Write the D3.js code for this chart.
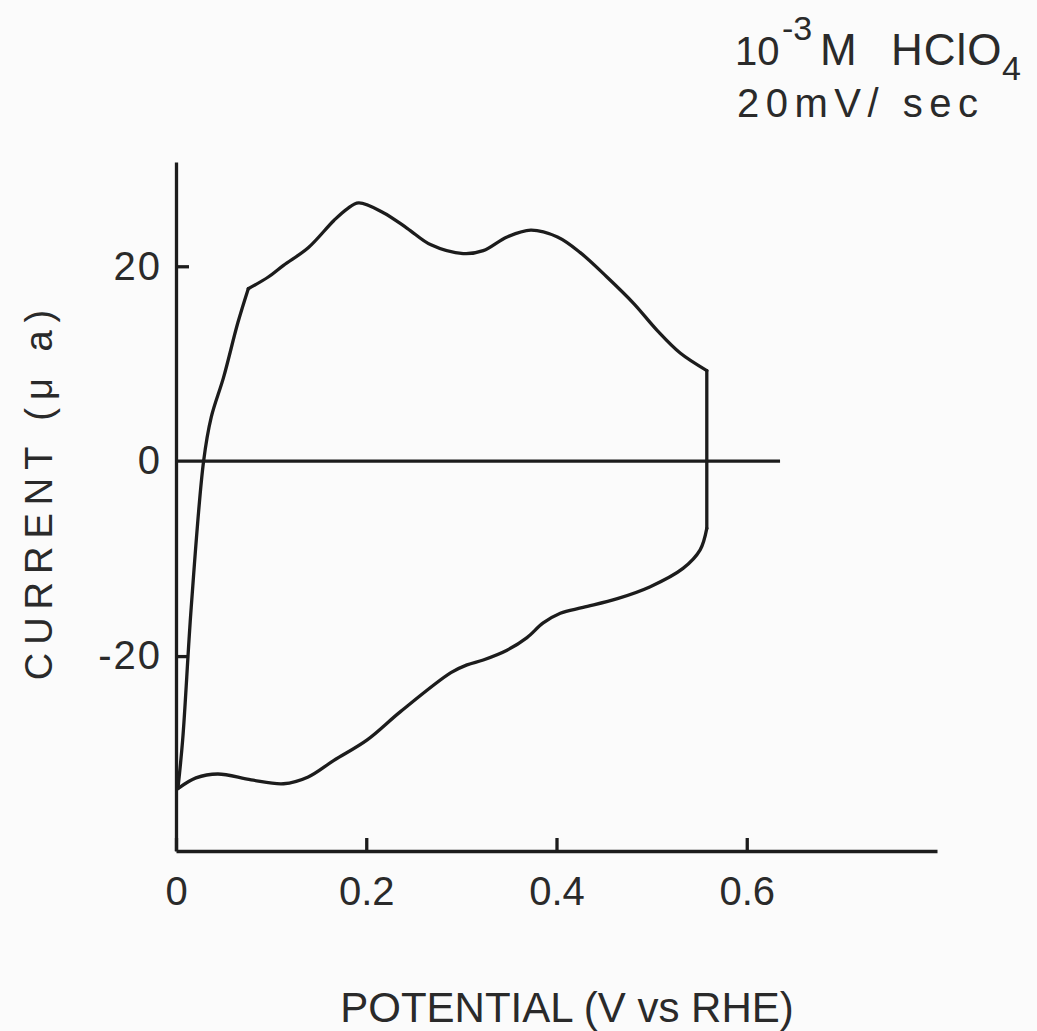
<!DOCTYPE html>
<html>
<head>
<meta charset="utf-8">
<script src="https://cdn.jsdelivr.net/npm/d3@7"></script>
<style>
  html, body { margin: 0; padding: 0; background: #fbfbfb; }
  svg { display: block; }
  text { font-family: "Liberation Sans", "DejaVu Sans", sans-serif; fill: #2a2a2a; }
</style>
</head>
<body>
<svg id="chart" width="1037" height="1031"></svg>
<script>
// ---- data ----
// Cyclic voltammogram loop: potential (V vs RHE) and current (µa), in sweep order
const potential = [
  0.002, 0.007, 0.016, 0.029, 0.037, 0.050, 0.065, 0.076,
  0.097, 0.113, 0.139, 0.166, 0.180, 0.192, 0.218, 0.243, 0.268, 0.302, 0.323,
  0.348, 0.373, 0.401, 0.425, 0.453, 0.481, 0.506, 0.530, 0.558,
  0.558, 0.551, 0.533, 0.498, 0.464, 0.428, 0.404, 0.386, 0.369, 0.348, 0.323,
  0.306, 0.289, 0.236, 0.201, 0.166, 0.139, 0.113, 0.079, 0.044, 0.021, 0.002
];
const current = [
  -33.6, -28.6, -15.0, 0.0, 4.5, 8.6, 14.2, 17.7,
  18.9, 20.1, 21.9, 24.7, 25.9, 26.5, 25.5, 23.9, 22.2, 21.3, 21.6,
  23.0, 23.7, 23.0, 21.4, 18.9, 16.2, 13.4, 11.1, 9.3,
  -6.9, -9.1, -11.0, -12.9, -14.1, -15.0, -15.6, -16.6, -18.1, -19.4, -20.4,
  -20.9, -21.7, -25.7, -28.6, -30.7, -32.4, -33.1, -32.7, -32.1, -32.5, -33.6
];
// indices where the trace has a sharp corner
const cornerIndex = [0, 7, 27, 28, 49];

const xTicks = [0, 0.2, 0.4, 0.6];
const xTickLabels = ["0", "0.2", "0.4", "0.6"];
const yTicks = [20, 0, -20];
const yTickLabels = ["20", "0", "-20"];
const zeroLine = [0, 0.635];   // potential range of the zero-current reference line

const xTitle = "POTENTIAL (V vs RHE)";
const yTitle = "CURRENT (\u03BC a)";
const annotationParts = ["10", "-3", "M", "HClO", "4"];
const sweepRate = "20mV/ sec";

// ---- layout ----
const svg = d3.select("#chart");
const x = d3.scaleLinear().domain([0, 0.8]).range([176, 937]);
const y = d3.scaleLinear().domain([-40, 30.7]).range([851, 162]);
const ink = "#1c1c1c";
const sw = 3.3;

// axes
const xAxis = d3.axisBottom(x)
  .tickValues(xTicks)
  .tickFormat((d, i) => xTickLabels[i])
  .tickSize(-13).tickSizeOuter(0).tickPadding(40);
const yAxis = d3.axisLeft(y)
  .tickValues(yTicks)
  .tickFormat((d, i) => yTickLabels[i])
  .tickSize(-13).tickSizeOuter(0).tickPadding(14);

const gx = svg.append("g").attr("transform", `translate(0,${y(-40)})`).call(xAxis);
const gy = svg.append("g").attr("transform", `translate(${x(0)},0)`).call(yAxis);

[gx, gy].forEach(g => {
  g.select(".domain").attr("stroke", ink).attr("stroke-width", sw);
  g.selectAll(".tick line").attr("stroke", ink).attr("stroke-width", sw);
  g.selectAll(".tick text")
    .style("font-family", '"Liberation Sans", sans-serif')
    .attr("fill", "#2a2a2a")
    .attr("font-size", 40);
});
gx.selectAll(".tick text").attr("dy", "0.35em");
gy.selectAll(".tick text").attr("letter-spacing", 2);
gy.selectAll(".tick").filter(d => d === 0).select("line").remove();

// zero-current reference line
svg.append("line")
  .attr("x1", x(zeroLine[0])).attr("x2", x(zeroLine[1]))
  .attr("y1", y(0)).attr("y2", y(0))
  .attr("stroke", ink).attr("stroke-width", sw);

// voltammogram trace, drawn segment by segment between corners
const pts = potential.map((p, i) => [p, current[i]]);
const line = d3.line()
  .x(d => x(d[0])).y(d => y(d[1]))
  .curve(d3.curveCatmullRom.alpha(0.5));
for (let s = 0; s < cornerIndex.length - 1; s++) {
  const seg = pts.slice(cornerIndex[s], cornerIndex[s + 1] + 1);
  svg.append("path")
    .attr("d", line(seg))
    .attr("fill", "none")
    .attr("stroke", ink)
    .attr("stroke-width", sw)
    .attr("stroke-linejoin", "round")
    .attr("stroke-linecap", "round");
}

// axis titles
svg.append("text")
  .attr("x", 567).attr("y", 1022)
  .attr("text-anchor", "middle")
  .attr("font-size", 42)
  .text(xTitle);

svg.append("text")
  .attr("transform", "translate(52,491) rotate(-90)")
  .attr("text-anchor", "middle")
  .attr("font-size", 38)
  .attr("letter-spacing", 8)
  .text(yTitle);

// annotation
const ann = svg.append("text").attr("y", 65).attr("font-size", 44);
ann.append("tspan").attr("x", 735).attr("font-size", 40).text(annotationParts[0]);
ann.append("tspan").attr("x", 782).attr("font-size", 34).attr("y", 40).text(annotationParts[1]);
ann.append("tspan").attr("x", 820).attr("y", 65).text(annotationParts[2]);
ann.append("tspan").attr("x", 891).attr("y", 65).attr("letter-spacing", 1).text(annotationParts[3]);
ann.append("tspan").attr("x", 1002).attr("y", 80).attr("font-size", 34).text(annotationParts[4]);

svg.append("text")
  .attr("x", 737).attr("y", 117)
  .attr("font-size", 40)
  .attr("letter-spacing", 6.5)
  .text(sweepRate);
</script>
</body>
</html>
